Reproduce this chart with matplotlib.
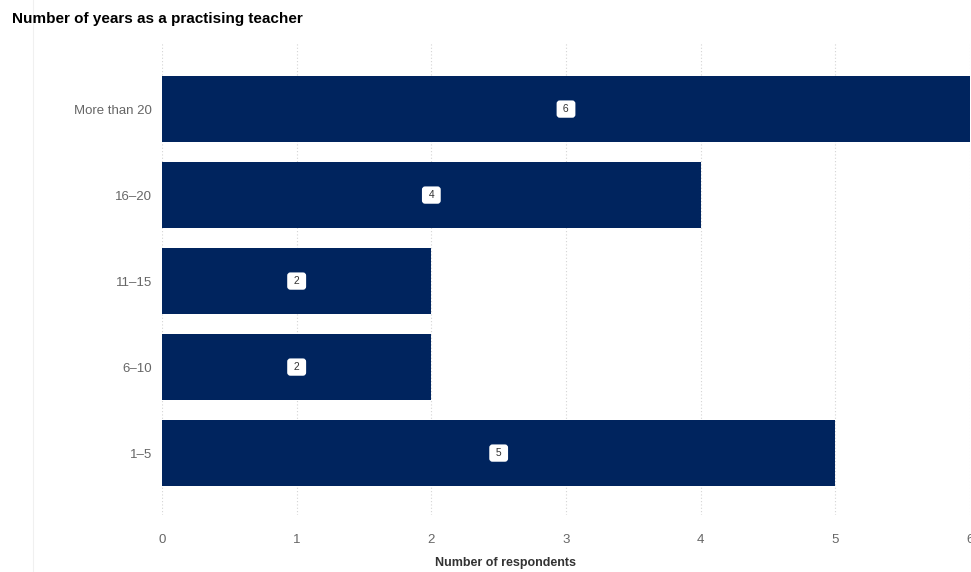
import matplotlib.pyplot as plt
from matplotlib.lines import Line2D

plt.rcParams['font.family'] = ['Liberation Sans', 'DejaVu Sans']

categories = ["1\u20135", "6\u201310", "11\u201315", "16\u201320", "More than 20"]
respondents = [5, 2, 2, 4, 6]
x_ticks = [0, 1, 2, 3, 4, 5, 6]

bar_color = "#00245e"

fig = plt.figure(figsize=(9.71, 5.72), dpi=100)
ax = fig.add_axes([162 / 971, 57 / 572, (970 - 162) / 971, (530 - 57) / 572])

ypos = list(range(len(categories)))
ax.barh(ypos, respondents, height=0.77, color=bar_color, zorder=2)

# value badges in the middle of each bar
for y, v in zip(ypos, respondents):
    ax.text(v / 2, y, " %d " % v, ha="center", va="center", fontsize=7.5, color="#333333",
            zorder=3,
            bbox=dict(boxstyle="round,pad=0.35,rounding_size=0.3", fc="white", ec="none"))

ax.set_xlim(0, 6)
ax.set_ylim(-0.72, 4.78)
ax.set_xticks(x_ticks)
ax.set_yticks(ypos)
ax.set_yticklabels(categories)
ax.tick_params(axis="both", length=0, labelsize=9.5, labelcolor="#666666")
ax.tick_params(axis="x", pad=14)
ax.tick_params(axis="y", pad=7)
ax.grid(axis="x", color="#d4d4d4", linestyle=(0, (1, 2)), linewidth=0.8, zorder=0)
for s in ax.spines.values():
    s.set_visible(False)

# thin panel border on the left
fig.add_artist(Line2D([33 / 971, 33 / 971], [0, 1], transform=fig.transFigure,
                      color="#f0f0f0", linewidth=0.8))

fig.text(12 / 971, 1 - 19 / 572, "Number of years as a practising teacher",
         fontsize=11, fontweight="bold", color="black", va="center", ha="left")
fig.text(505 / 971, 1 - 563 / 572, "Number of respondents",
         fontsize=9, fontweight="bold", color="#333333", va="center", ha="center")

fig.savefig("out.png", dpi=100)
